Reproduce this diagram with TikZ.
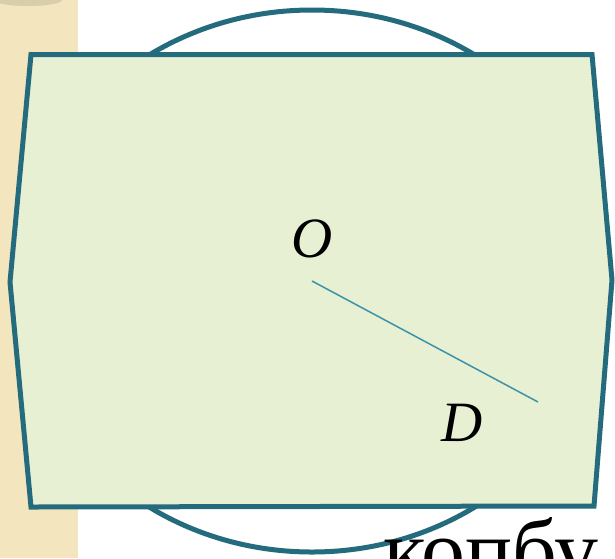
\documentclass[tikz,border=0pt]{standalone}
\usepackage{fontspec}
\setmainfont{Liberation Serif}
\usepackage{xcolor}
\definecolor{tealedge}{RGB}{36,107,126}
\definecolor{tealline}{RGB}{58,147,168}
\definecolor{palegreen}{RGB}{232,240,212}
\definecolor{beige}{RGB}{243,230,190}
\definecolor{beigeshade}{RGB}{200,190,160}

\begin{document}
\begin{tikzpicture}[
    x=1pt, y=-1pt,
    rim/.style={draw=tealedge, line width=5pt, line join=miter},
    seg/.style={draw=tealline, line width=1.5pt},
    lbl/.style={inner sep=0pt, font=\fontsize{57}{60}\selectfont\itshape}
]
    \useasboundingbox (0,0) rectangle (615,558);

    % textured strip on the left
    \fill[beige] (0,0) rectangle (78,558);
    \fill[beigeshade, opacity=0.6] (28,0) ellipse (34 and 6);

    % circle behind the plate
    \draw[rim] (312,281) ellipse (295 and 271);

    % the plate
    \filldraw[rim, fill=palegreen]
        (31,54.5) -- (592,54.5) -- (612,280) -- (594,506) -- (31,507) -- (10,282) -- cycle;

    % segment OD
    \coordinate (o) at (312,281);
    \coordinate (d) at (538,402);
    \draw[seg] (o) -- (d);
    \node[lbl] (olbl) at (312,239) {O};
    \node[lbl] (dlbl) at (462,423) {D};

    % word cut off at the bottom
    \node[inner sep=0pt, anchor=base west, font=\fontsize{88}{92}\selectfont] (word) at (383,580) {копбу};
\end{tikzpicture}
\end{document}
